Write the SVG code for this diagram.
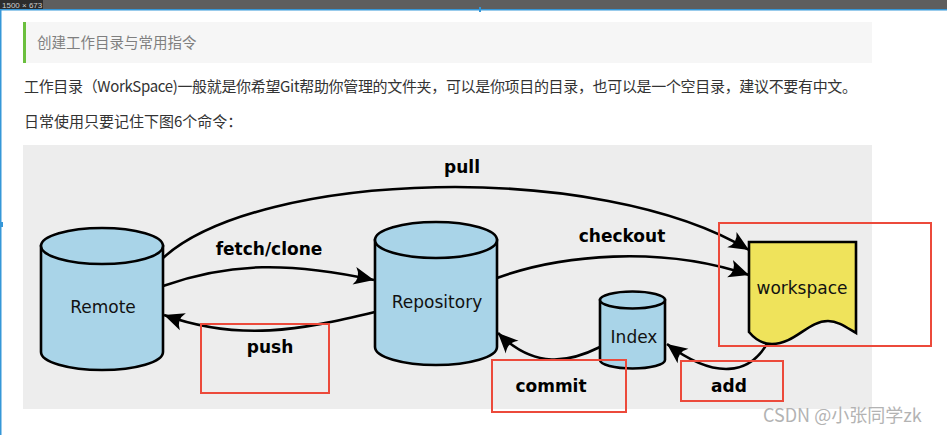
<svg xmlns="http://www.w3.org/2000/svg" width="947" height="435" viewBox="0 0 947 435">
<style>
.cn{font-family:"Noto Sans CJK SC","Noto Sans",sans-serif}
.lbl{font-family:"DejaVu Sans",sans-serif;font-weight:bold;font-size:17px;fill:#000;text-anchor:middle}
.nl{font-family:"DejaVu Sans",sans-serif;font-size:17px;fill:#111;text-anchor:middle}
.cyl{fill:#a9d4e8;stroke:#000;stroke-width:2.6}
.con{fill:none;stroke:#000;stroke-width:2.6;marker-end:url(#ah)}
.red{fill:none;stroke:#ec4a3b;stroke-width:2}
</style>
<defs>
<marker id="ah" markerUnits="userSpaceOnUse" viewBox="-22 -11 24 22" markerWidth="24" markerHeight="22" refX="0" refY="0" orient="auto">
<path d="M0,0 L-20,-9 Q-13,0 -20,9 Z" fill="#000"/>
</marker>
</defs>
<rect width="947" height="435" fill="#fff"/>
<!-- top bar -->
<rect x="0" y="0" width="947" height="9" fill="#5e5e5e"/>
<rect x="0" y="0" width="43" height="9" fill="#2c2c2c"/>
<text x="2" y="7.5" font-family="Liberation Sans,sans-serif" font-size="8" fill="#ccc">1500 × 673</text>
<rect x="0" y="9" width="947" height="1.5" fill="#3597d8"/>
<rect x="0" y="9" width="1.5" height="426" fill="#3597d8"/>
<rect x="479" y="7" width="2" height="5" fill="#3597d8"/>
<rect x="0" y="222" width="3" height="5" fill="#3597d8"/>
<!-- heading -->
<rect x="23" y="22" width="849" height="41" fill="#f6f6f6"/>
<rect x="23" y="22" width="3" height="41" fill="#6bbf3e"/>
<text x="37" y="48" class="cn" font-size="14.5" fill="#7f7f7f">创建工作目录与常用指令</text>
<text x="24" y="92" class="cn" font-size="15" fill="#333" textLength="833">工作目录（WorkSpace)一般就是你希望Git帮助你管理的文件夹，可以是你项目的目录，也可以是一个空目录，建议不要有中文。</text>
<text x="24" y="127" class="cn" font-size="15" fill="#333">日常使用只要记住下图6个命令：</text>
<!-- diagram background -->
<rect x="23" y="145" width="849" height="264" fill="#ededed"/>
<!-- connectors -->
<g id="connectors">
<path class="con" d="M163,258 C260,170 600,160 749,250"/>
<path class="con" d="M163,286 C230,262 290,262 374,280"/>
<path class="con" d="M375,312 C300,330 240,342 164,315"/>
<path class="con" d="M497,278 C560,255 660,245 749,275"/>
<path class="con" d="M600,347 C570,362 535,370 498,333"/>
<path class="con" d="M768,342 C750,375 715,380 667,344"/>
</g>
<g id="labels">
<text class="lbl" x="462" y="173">pull</text>
<text class="lbl" x="269" y="255">fetch/clone</text>
<text class="lbl" x="270" y="353">push</text>
<text class="lbl" x="622" y="242">checkout</text>
<text class="lbl" x="551" y="392">commit</text>
<text class="lbl" x="729" y="392">add</text>
</g>
<!-- nodes -->
<g id="remote">
<path class="cyl" d="M41,246 L41,352 A61,18 0 0 0 163,352 L163,246 Z"/>
<ellipse class="cyl" cx="102" cy="246" rx="61" ry="18"/>
<text class="nl" x="103" y="313">Remote</text>
</g>
<g id="repository">
<path class="cyl" d="M375,240 L375,347 A61,18 0 0 0 497,347 L497,240 Z"/>
<ellipse class="cyl" cx="436" cy="240" rx="61" ry="18"/>
<text class="nl" x="437" y="308">Repository</text>
</g>
<g id="index">
<path class="cyl" d="M600,300 L600,360 A32.5,8.5 0 0 0 665,360 L665,300 Z"/>
<ellipse class="cyl" cx="632.5" cy="300" rx="32.5" ry="8.5"/>
<text class="nl" x="634" y="343" font-size="16.5">Index</text>
</g>
<g id="workspace">
<path d="M749,242 L856,242 L856,333 C846,327 838,321 828,321 C808,321 795,344 772,344 C762,344 754,338 749,332 Z" fill="#efe35b" stroke="#000" stroke-width="2.6"/>
<text class="nl" x="802" y="294">workspace</text>
</g>
<!-- red highlight boxes -->
<g id="highlights">
<rect class="red" x="201" y="324" width="128" height="69"/>
<rect class="red" x="492" y="360" width="134" height="52"/>
<rect class="red" x="681" y="361" width="102" height="40"/>
<rect class="red" x="719" y="223" width="212" height="123"/>
</g>
<text x="763" y="422" class="cn" font-size="18" fill="#b3b3b3">CSDN @小张同学zk</text>
</svg>
